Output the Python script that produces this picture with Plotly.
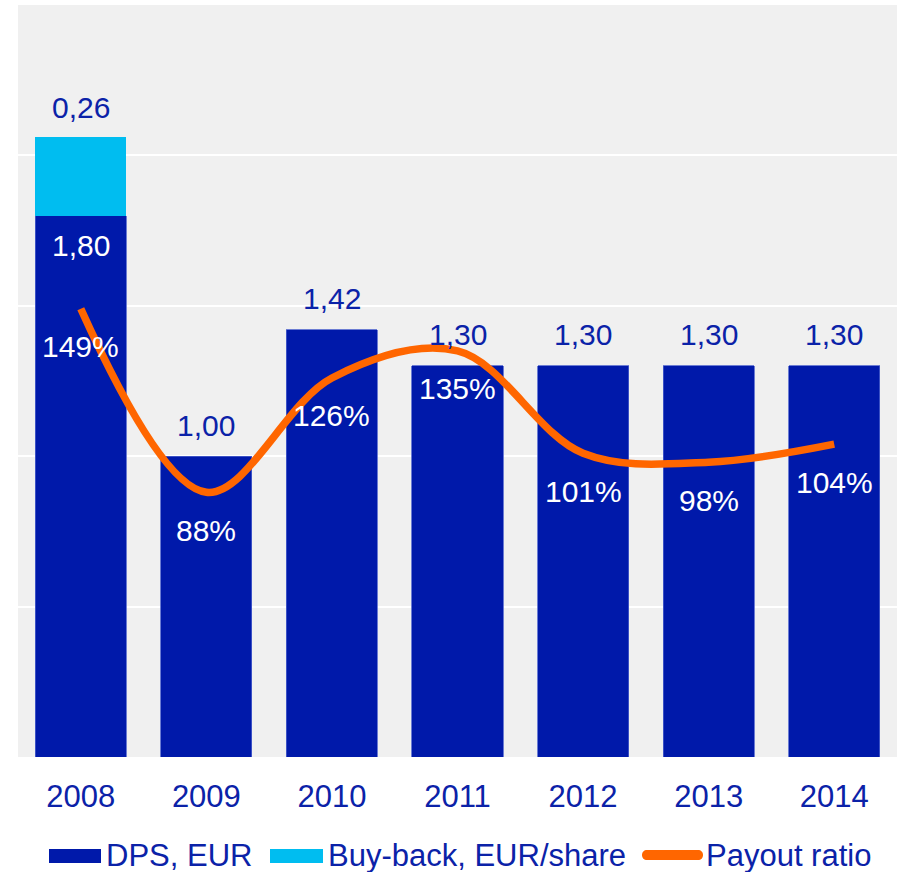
import plotly.graph_objects as go

# Data
years = ["2008", "2009", "2010", "2011", "2012", "2013", "2014"]
dps_eur = [1.80, 1.00, 1.42, 1.30, 1.30, 1.30, 1.30]
buyback_eur = [0.26, None, None, None, None, None, None]
payout_pct = [149, 88, 126, 135, 101, 98, 104]

# Styling
DARK_BLUE = "#0019AA"
TEXT_BLUE = "#0B22A8"
CYAN = "#00BDF0"
ORANGE = "#FF6600"
PLOT_BG = "#F0F0F0"
FONT = "Arial, Liberation Sans, sans-serif"
FS = 30

W, H = 899, 872
ML, MR, MT, MB = 18, 2, 5, 115
PW, PH = W - ML - MR, H - MT - MB


def fmt_eur(v):
    return f"{v:.2f}".replace(".", ",")


def px_to_paper(px, py):
    return (px - ML) / PW, (H - MB - py) / PH


fig = go.Figure()

fig.add_trace(go.Bar(
    x=years, y=dps_eur, name="DPS, EUR",
    marker=dict(color=DARK_BLUE, line=dict(color="#4A5FCC", width=0.8)),
))
fig.add_trace(go.Bar(
    x=years, y=buyback_eur, name="Buy-back, EUR/share",
    marker=dict(color=CYAN, line=dict(width=0)),
))
fig.add_trace(go.Scatter(
    x=years, y=payout_pct, name="Payout ratio", yaxis="y2",
    mode="lines", line=dict(color=ORANGE, width=7.5, shape="spline", smoothing=1.0),
))

annotations = []
# category axis: annotations are placed by category index
for i, (d, b, p) in enumerate(zip(dps_eur, buyback_eur, payout_pct)):
    if b:
        # DPS value sits inside the bar when a buy-back segment is stacked on top
        annotations.append(dict(x=i, y=d, xref="x", yref="y", text=fmt_eur(d),
                                showarrow=False, yanchor="middle", yshift=-30,
                                font=dict(color="white", size=FS, family=FONT)))
        annotations.append(dict(x=i, y=d + b, xref="x", yref="y", text=fmt_eur(b),
                                showarrow=False, yanchor="middle", yshift=30,
                                font=dict(color=TEXT_BLUE, size=FS, family=FONT)))
    else:
        annotations.append(dict(x=i, y=d, xref="x", yref="y", text=fmt_eur(d),
                                showarrow=False, yanchor="middle", yshift=31,
                                font=dict(color=TEXT_BLUE, size=FS, family=FONT)))
    annotations.append(dict(x=i, y=p, xref="x", yref="y2", text=f"{p}%",
                            showarrow=False, yanchor="middle", yshift=-38,
                            font=dict(color="white", size=FS, family=FONT)))

# Custom legend along the bottom
shapes = []
legend_items = [
    ("rect", DARK_BLUE, 49, 101, "DPS, EUR", 104),
    ("rect", CYAN, 270, 323, "Buy-back, EUR/share", 326),
    ("capsule", ORANGE, 642, 703, "Payout ratio", 704),
]
leg_y = 856
for kind, color, x0, x1, label, tx in legend_items:
    if kind == "rect":
        ax0, ay0 = px_to_paper(x0, leg_y - 7)
        ax1, ay1 = px_to_paper(x1, leg_y + 7)
        shapes.append(dict(type="rect", xref="paper", yref="paper",
                           x0=ax0, x1=ax1, y0=ay1, y1=ay0,
                           fillcolor=color, line=dict(width=0)))
    else:
        cx, cy = px_to_paper((x0 + x1) / 2, leg_y - 1)
        hl, r = (x1 - x0) / 2, 5
        a = hl - r
        path = (f"M{-a},{-r} L{a},{-r} C{a + 3},{-r} {hl},{-3} {hl},0 "
                f"C{hl},3 {a + 3},{r} {a},{r} L{-a},{r} "
                f"C{-a - 3},{r} {-hl},3 {-hl},0 C{-hl},-3 {-a - 3},{-r} {-a},{-r} Z")
        shapes.append(dict(type="path", xref="paper", yref="paper",
                           xsizemode="pixel", ysizemode="pixel",
                           xanchor=cx, yanchor=cy, path=path,
                           fillcolor=color, line=dict(width=0)))
    lx, ly = px_to_paper(tx, leg_y)
    annotations.append(dict(x=lx, y=ly, xref="paper", yref="paper", text=label,
                            showarrow=False, xanchor="left", yanchor="middle",
                            font=dict(color=TEXT_BLUE, size=FS + 1, family=FONT)))

fig.update_layout(
    width=W, height=H,
    margin=dict(l=ML, r=MR, t=MT, b=MB, autoexpand=False),
    paper_bgcolor="white",
    plot_bgcolor=PLOT_BG,
    barmode="stack",
    bargap=0.275,
    showlegend=False,
    font=dict(family=FONT, size=FS, color=TEXT_BLUE),
    xaxis=dict(
        type="category", showgrid=False, zeroline=False, showline=False,
        ticks="", ticklabelstandoff=18, automargin=False,
        tickfont=dict(size=FS + 1, color=TEXT_BLUE, family=FONT),
    ),
    yaxis=dict(
        range=[0, 2.5], dtick=0.5, showticklabels=False, ticks="",
        showgrid=True, gridcolor="white", gridwidth=2, zeroline=False,
    ),
    yaxis2=dict(
        range=[0, 250], overlaying="y", side="right", visible=False,
        showgrid=False, zeroline=False,
    ),
    annotations=annotations,
    shapes=shapes,
)

fig.write_html("out.html")
